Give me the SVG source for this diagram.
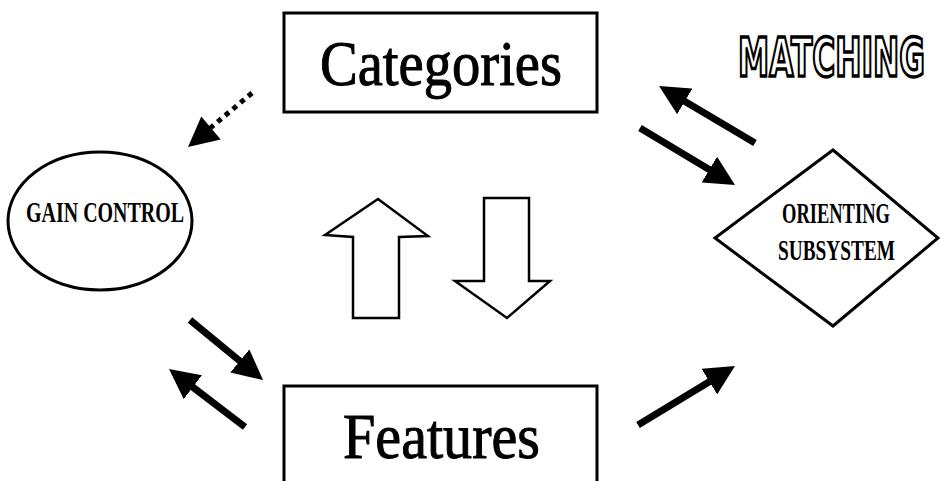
<svg xmlns="http://www.w3.org/2000/svg" width="940" height="481" viewBox="0 0 940 481">
<style>
.box{fill:#fff;stroke:#000;stroke-width:3}
.big{font-family:"Liberation Serif","Times New Roman",serif;font-size:63px;fill:#000;stroke:#000;stroke-width:1}
.small{font-family:"Liberation Serif","Times New Roman",serif;font-size:30px;font-weight:bold;fill:#000}
.arr{stroke:#000;stroke-width:7;fill:none;marker-end:url(#head)}
.hollow{fill:#fff;stroke:#000;stroke-width:2.5;stroke-linejoin:miter}
</style>
<defs>
<marker id="head" markerUnits="userSpaceOnUse" markerWidth="30" markerHeight="30" viewBox="0 0 30 30" refX="12" refY="15" orient="auto">
<path d="M0,0 L30,15 L0,30 z" fill="#000"/>
</marker>
</defs>
<rect width="940" height="481" fill="#fff"/>
<g id="categories">
<rect class="box" x="284" y="13" width="313" height="99"/>
<text class="big" x="441" y="85" text-anchor="middle" textLength="242" lengthAdjust="spacingAndGlyphs">Categories</text>
</g>
<g id="features">
<rect class="box" x="284" y="386" width="313" height="110"/>
<text class="big" x="343" y="458" textLength="197" lengthAdjust="spacingAndGlyphs">Features</text>
</g>
<g id="gain-control">
<ellipse class="box" cx="100" cy="221" rx="92" ry="69"/>
<text class="small" transform="translate(26,222) scale(0.667,1)" x="0" y="0" textLength="237" lengthAdjust="spacingAndGlyphs">GAIN CONTROL</text>
</g>
<g id="orienting-subsystem">
<polygon class="box" points="833,150 938,238 833,326 715,238"/>
<text class="small" transform="translate(782,223) scale(0.62,1)" x="0" y="0" textLength="174" lengthAdjust="spacingAndGlyphs">ORIENTING</text>
<text class="small" transform="translate(778,260) scale(0.643,1)" x="0" y="0" textLength="182" lengthAdjust="spacingAndGlyphs">SUBSYSTEM</text>
</g>
<g id="matching-label">
<text transform="translate(738,76) scale(0.584,1)" x="0" y="0" font-family="'DejaVu Sans',sans-serif" font-weight="bold" font-size="54" fill="#fff" stroke="#000" stroke-width="3.4" textLength="320" lengthAdjust="spacingAndGlyphs">MATCHING</text>
</g>
<g id="connectors">
<line class="arr" x1="755" y1="143" x2="674.5" y2="95.2"/>
<line class="arr" x1="640" y1="128" x2="719.6" y2="175.7"/>
<line class="arr" x1="190" y1="320" x2="249.1" y2="368.6"/>
<line class="arr" x1="245" y1="427" x2="183.3" y2="379.9"/>
<line class="arr" x1="638" y1="425" x2="719.6" y2="375.4"/>
<line x1="252" y1="93" x2="206" y2="131.6" stroke="#000" stroke-width="5" stroke-dasharray="5 5"/>
<polygon points="188,147 201.3,116.5 220.7,139.5" fill="#000"/>
<polygon class="hollow" points="378,199 428,236 399,237 399,318 353,318 353,237 325,235"/>
<polygon class="hollow" points="484,198 529,198 529,281 550,281 507,318 455,281 484,281"/>
</g>
</svg>
